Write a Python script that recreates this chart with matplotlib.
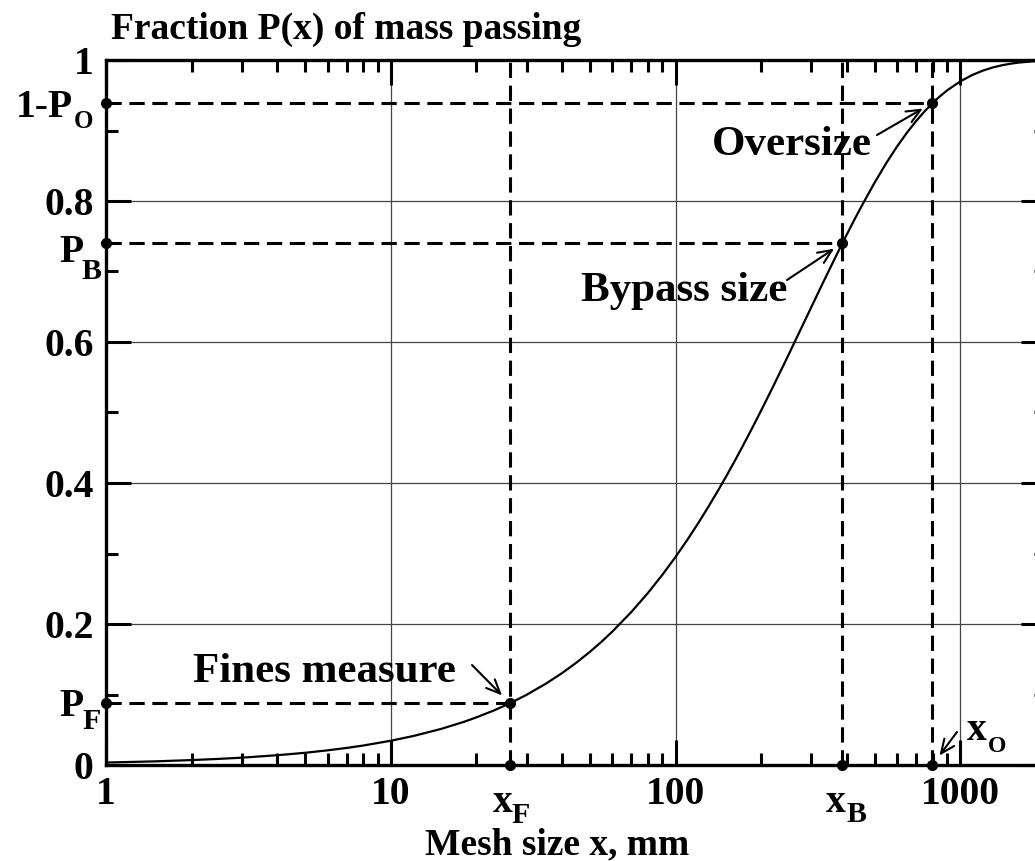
import numpy as np
import matplotlib
matplotlib.use('Agg')
from matplotlib import pyplot as plt
from matplotlib.ticker import MultipleLocator, LogLocator, NullFormatter, FixedLocator, FixedFormatter

plt.rcParams['font.family'] = ['Liberation Serif', 'DejaVu Serif']
plt.rcParams['font.weight'] = 'bold'

# curve (mesh size in mm, fraction passing)
mesh_mm = [1, 1.5, 2, 2.5, 3, 4, 5, 6, 7, 8, 10, 12, 15, 18, 20, 23, 26.2, 30, 35, 40,
           45, 50, 55, 60, 70, 80, 90, 100, 110, 120, 130, 140, 150, 160, 170, 180,
           190, 200, 220, 240, 260, 280, 300, 330, 360, 385, 420, 450, 500, 550, 600,
           650, 700, 750, 798, 850, 900, 1000, 1100, 1200, 1300, 1400, 1500, 1600,
           1800, 2000]
passing = [0.0035, 0.0052, 0.0070, 0.0087, 0.0104, 0.0139, 0.0173, 0.0208, 0.0242,
           0.0276, 0.0344, 0.0411, 0.0511, 0.0610, 0.0676, 0.0773, 0.0875, 0.0996,
           0.1152, 0.1305, 0.1456, 0.1604, 0.1749, 0.1893, 0.2171, 0.2440, 0.2700,
           0.2951, 0.3193, 0.3427, 0.3653, 0.3871, 0.4081, 0.4284, 0.4481, 0.4671,
           0.4854, 0.5031, 0.5366, 0.5679, 0.5971, 0.6243, 0.6497, 0.6846, 0.7159,
           0.7397, 0.7697, 0.7926, 0.8259, 0.8539, 0.8774, 0.8970, 0.9135, 0.9273,
           0.9386, 0.9488, 0.9570, 0.9697, 0.9786, 0.9849, 0.9894, 0.9925, 0.9947,
           0.9963, 0.9981, 0.9991]

# marked points
x_F, x_B, x_O = 26.2, 385, 798
P_F, P_B, P_O1 = 0.0875, 0.740, 0.939

y_ticks = [0, 0.2, 0.4, 0.6, 0.8, 1]
y_ticklabels = ['0', '0.2', '0.4', '0.6', '0.8', '1']
x_ticks = [1, 10, 100, 1000]
x_ticklabels = ['1', '10', '100', '1000']

W, H = 1035, 861
fig = plt.figure(figsize=(W / 100, H / 100), dpi=100)

# axes box in pixels (right spine is cropped off the picture)
left, right, top, bottom = 106, 1046, 60, 765
ax = fig.add_axes([left / W, 1 - bottom / H, (right - left) / W, (bottom - top) / H])

def AX(px):
    return (px - left) / (right - left)

def AY(py):
    return (bottom - py) / (bottom - top)

ax.set_xscale('log')
ax.set_xlim(1, 2000)
ax.set_ylim(0, 1)

ax.plot(mesh_mm, passing, color='black', lw=1.6, zorder=4)

# dashed guide lines
dash = dict(color='black', lw=2.2, dashes=(5, 2.5), zorder=3)
for xv in [x_F, x_B, x_O]:
    ax.axvline(xv, **dash)
for xv, pv in [(x_F, P_F), (x_B, P_B), (x_O, P_O1)]:
    ax.plot([1, xv], [pv, pv], **dash)

# dots on the curve and on the axes
ax.plot([x_F, x_B, x_O], [P_F, P_B, P_O1], 'o', color='black', ms=7, zorder=5)
ax.plot([1, 1, 1], [P_F, P_B, P_O1], 'o', color='black', ms=7, zorder=6, clip_on=False)
ax.plot([x_F, x_B, x_O], [0, 0, 0], 'o', color='black', ms=7, zorder=6, clip_on=False)

# ticks
ax.xaxis.set_major_locator(FixedLocator(x_ticks))
ax.xaxis.set_major_formatter(FixedFormatter(x_ticklabels))
ax.xaxis.set_minor_locator(LogLocator(base=10, subs=np.arange(2, 10)))
ax.xaxis.set_minor_formatter(NullFormatter())
ax.yaxis.set_major_locator(FixedLocator(y_ticks))
ax.yaxis.set_major_formatter(FixedFormatter(y_ticklabels))
ax.yaxis.set_minor_locator(MultipleLocator(0.1))
ax.tick_params(which='both', direction='in', top=True, right=True, width=2.2, labelsize=28.5)
ax.tick_params(which='major', length=18)
ax.tick_params(which='minor', length=8.6)
ax.tick_params(axis='x', pad=8)
ax.tick_params(axis='y', pad=9)
for sp in ax.spines.values():
    sp.set_linewidth(2.4)

ax.grid(which='major', color='#444444', lw=0.9, zorder=1)

# labels with subscripts, offsets given in pixels from the marked point
def sub_label(xy, coords, main, sub, main_off, main_ha, sub_off, sub_fs):
    ax.annotate(main, xy=xy, xycoords=coords, xytext=(main_off[0] * 0.72, -main_off[1] * 0.72),
                textcoords='offset points', ha=main_ha, va='baseline', fontsize=28.5,
                annotation_clip=False)
    ax.annotate(sub, xy=xy, xycoords=coords, xytext=(sub_off[0] * 0.72, -sub_off[1] * 0.72),
                textcoords='offset points', ha='left', va='baseline', fontsize=sub_fs,
                annotation_clip=False)

ycoords = ('axes fraction', 'data')
xcoords = ('data', 'axes fraction')
sub_label((0, P_O1), ycoords, '1-P', 'O', (-33, 14), 'right', (-32, 25), 18)
sub_label((0, P_B), ycoords, 'P', 'B', (-23, 19), 'right', (-24, 36), 21.5)
sub_label((0, P_F), ycoords, 'P', 'F', (-23, 13), 'right', (-24, 26), 21.5)
sub_label((x_F, 0), xcoords, 'x', 'F', (-17, 47), 'left', (2, 58), 21.5)
sub_label((x_B, 0), xcoords, 'x', 'B', (-16, 47), 'left', (4, 57), 21.5)
sub_label((x_O, 0), xcoords, 'x', 'O', (35, -25), 'left', (56, -13), 17)

# annotations
ann_fs = 31
arrow = dict(arrowstyle='->,head_length=0.5,head_width=0.22', lw=1.5, color='black',
             shrinkA=0, mutation_scale=20)
ax.text(AX(792), AY(155), 'Oversize', transform=ax.transAxes, ha='center', va='baseline', fontsize=ann_fs)
ax.annotate('', xy=(x_O, P_O1), xytext=(AX(877), AY(135)), textcoords='axes fraction',
            arrowprops=dict(arrow, shrinkB=8))
ax.text(AX(684), AY(301), 'Bypass size', transform=ax.transAxes, ha='center', va='baseline', fontsize=ann_fs)
ax.annotate('', xy=(x_B, P_B), xytext=(AX(787), AY(280)), textcoords='axes fraction',
            arrowprops=dict(arrow, shrinkB=7))
ax.text(AX(324), AY(682), 'Fines measure', transform=ax.transAxes, ha='center', va='baseline', fontsize=ann_fs)
ax.annotate('', xy=(x_F, P_F), xytext=(AX(472), AY(665)), textcoords='axes fraction',
            arrowprops=dict(arrow, shrinkB=8))
ax.annotate('', xy=(x_O, 0), xytext=(AX(957), AY(732)), textcoords='axes fraction',
            arrowprops=dict(arrow, shrinkB=8.5), annotation_clip=False)

fig.text(111 / W, 1 - 39 / H, 'Fraction P(x) of mass passing', fontsize=27, ha='left', va='baseline')
fig.text(557 / W, 1 - 854 / H, 'Mesh size x, mm', fontsize=27, ha='center', va='baseline')

plt.savefig('out.png', dpi=100)
